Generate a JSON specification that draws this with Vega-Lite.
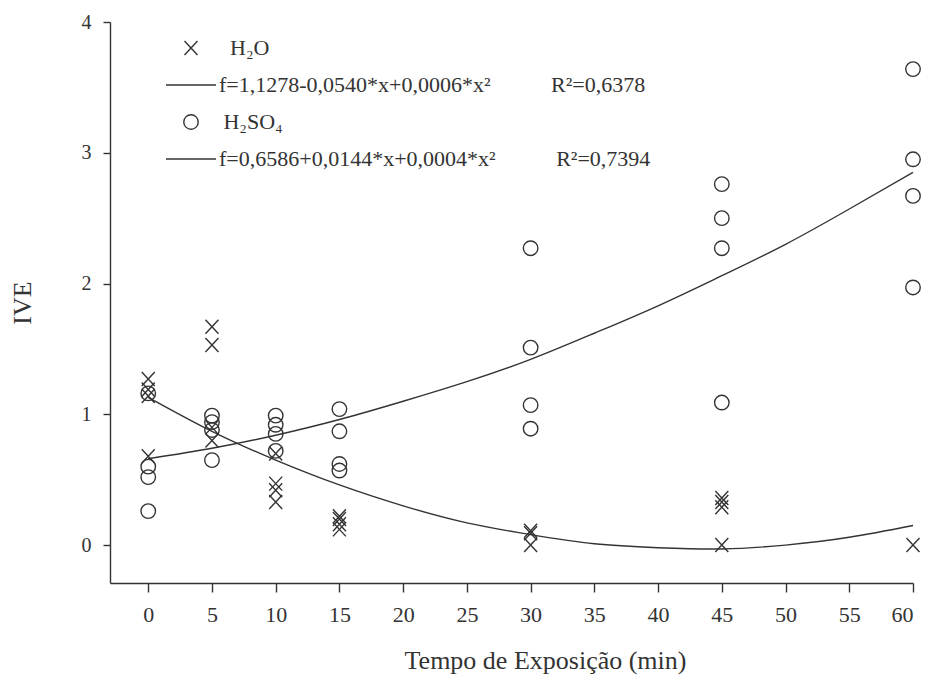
{
  "$schema": "https://vega.github.io/schema/vega-lite/v6.json",
  "width": 803,
  "height": 561,
  "autosize": {"type": "none"},
  "padding": {"left": 110, "top": 22, "right": 15, "bottom": 103},
  "background": "white",
  "config": {
    "view": {"stroke": null},
    "font": "Liberation Serif",
    "axis": {
      "grid": false,
      "domainColor": "#333",
      "tickColor": "#333",
      "labelColor": "#333",
      "titleColor": "#333",
      "domainWidth": 1.4,
      "tickWidth": 1.4,
      "labelFont": "Liberation Serif",
      "titleFont": "Liberation Serif",
      "titleFontWeight": "normal",
      "titleFontSize": 26
    }
  },
  "datasets": {
    "obs": [
      {"t": 0, "v": 1.27, "s": "H2O"}, {"t": 0, "v": 1.19, "s": "H2O"}, {"t": 0, "v": 1.14, "s": "H2O"}, {"t": 0, "v": 0.68, "s": "H2O"},
      {"t": 5, "v": 1.67, "s": "H2O"}, {"t": 5, "v": 1.53, "s": "H2O"}, {"t": 5, "v": 0.9, "s": "H2O"}, {"t": 5, "v": 0.8, "s": "H2O"},
      {"t": 10, "v": 0.7, "s": "H2O"}, {"t": 10, "v": 0.47, "s": "H2O"}, {"t": 10, "v": 0.42, "s": "H2O"}, {"t": 10, "v": 0.33, "s": "H2O"},
      {"t": 15, "v": 0.22, "s": "H2O"}, {"t": 15, "v": 0.2, "s": "H2O"}, {"t": 15, "v": 0.16, "s": "H2O"}, {"t": 15, "v": 0.12, "s": "H2O"},
      {"t": 30, "v": 0.11, "s": "H2O"}, {"t": 30, "v": 0.09, "s": "H2O"}, {"t": 30, "v": 0.0, "s": "H2O"},
      {"t": 45, "v": 0.36, "s": "H2O"}, {"t": 45, "v": 0.33, "s": "H2O"}, {"t": 45, "v": 0.29, "s": "H2O"}, {"t": 45, "v": 0.0, "s": "H2O"},
      {"t": 60, "v": 0.0, "s": "H2O"},
      {"t": 0, "v": 1.16, "s": "H2SO4"}, {"t": 0, "v": 0.6, "s": "H2SO4"}, {"t": 0, "v": 0.52, "s": "H2SO4"}, {"t": 0, "v": 0.26, "s": "H2SO4"},
      {"t": 5, "v": 0.99, "s": "H2SO4"}, {"t": 5, "v": 0.94, "s": "H2SO4"}, {"t": 5, "v": 0.88, "s": "H2SO4"}, {"t": 5, "v": 0.65, "s": "H2SO4"},
      {"t": 10, "v": 0.99, "s": "H2SO4"}, {"t": 10, "v": 0.92, "s": "H2SO4"}, {"t": 10, "v": 0.85, "s": "H2SO4"}, {"t": 10, "v": 0.72, "s": "H2SO4"},
      {"t": 15, "v": 1.04, "s": "H2SO4"}, {"t": 15, "v": 0.87, "s": "H2SO4"}, {"t": 15, "v": 0.62, "s": "H2SO4"}, {"t": 15, "v": 0.57, "s": "H2SO4"},
      {"t": 30, "v": 2.27, "s": "H2SO4"}, {"t": 30, "v": 1.51, "s": "H2SO4"}, {"t": 30, "v": 1.07, "s": "H2SO4"}, {"t": 30, "v": 0.89, "s": "H2SO4"},
      {"t": 45, "v": 2.76, "s": "H2SO4"}, {"t": 45, "v": 2.5, "s": "H2SO4"}, {"t": 45, "v": 2.27, "s": "H2SO4"}, {"t": 45, "v": 1.09, "s": "H2SO4"},
      {"t": 60, "v": 3.64, "s": "H2SO4"}, {"t": 60, "v": 2.95, "s": "H2SO4"}, {"t": 60, "v": 2.67, "s": "H2SO4"}, {"t": 60, "v": 1.97, "s": "H2SO4"}
    ],
    "fit": [
      {"t": 0, "v": 1.13, "s": "H2O"}, {"t": 5, "v": 0.87, "s": "H2O"}, {"t": 10, "v": 0.65, "s": "H2O"}, {"t": 15, "v": 0.46, "s": "H2O"},
      {"t": 20, "v": 0.3, "s": "H2O"}, {"t": 25, "v": 0.17, "s": "H2O"}, {"t": 30, "v": 0.08, "s": "H2O"}, {"t": 35, "v": 0.01, "s": "H2O"},
      {"t": 40, "v": -0.02, "s": "H2O"}, {"t": 45, "v": -0.03, "s": "H2O"}, {"t": 50, "v": 0.0, "s": "H2O"}, {"t": 55, "v": 0.06, "s": "H2O"},
      {"t": 60, "v": 0.15, "s": "H2O"},
      {"t": 0, "v": 0.66, "s": "H2SO4"}, {"t": 5, "v": 0.74, "s": "H2SO4"}, {"t": 10, "v": 0.84, "s": "H2SO4"}, {"t": 15, "v": 0.96, "s": "H2SO4"},
      {"t": 20, "v": 1.1, "s": "H2SO4"}, {"t": 25, "v": 1.25, "s": "H2SO4"}, {"t": 30, "v": 1.42, "s": "H2SO4"}, {"t": 35, "v": 1.62, "s": "H2SO4"},
      {"t": 40, "v": 1.83, "s": "H2SO4"}, {"t": 45, "v": 2.06, "s": "H2SO4"}, {"t": 50, "v": 2.3, "s": "H2SO4"}, {"t": 55, "v": 2.57, "s": "H2SO4"},
      {"t": 60, "v": 2.85, "s": "H2SO4"}
    ]
  },
  "encoding": {
    "x": {
      "field": "t",
      "type": "quantitative",
      "scale": {"domain": [-3, 60], "nice": false, "zero": false},
      "axis": {
        "title": "Tempo de Exposição (min)",
        "values": [0, 5, 10, 15, 20, 25, 30, 35, 40, 45, 50, 55, 60],
        "tickSize": 9,
        "labelFontSize": 22,
        "labelPadding": 12,
        "titlePadding": 22,
        "titleX": 435,
        "titleAlign": "center"
      }
    },
    "y": {
      "field": "v",
      "type": "quantitative",
      "scale": {"domain": [-0.29, 4], "nice": false, "zero": false},
      "axis": {
        "title": "IVE",
        "values": [0, 1, 2, 3, 4],
        "tickSize": 7,
        "labelFontSize": 20,
        "labelPadding": 12,
        "titlePadding": 46
      }
    }
  },
  "layer": [
    {
      "data": {"name": "fit"},
      "mark": {"type": "line", "interpolate": "natural", "color": "#333", "strokeWidth": 1.4},
      "encoding": {"detail": {"field": "s", "type": "nominal"}}
    },
    {
      "data": {"name": "obs"},
      "mark": {"type": "point", "filled": false, "color": "#333", "strokeWidth": 1.4, "size": 2500, "opacity": 1},
      "encoding": {
        "shape": {
          "field": "s",
          "type": "nominal",
          "scale": {
            "domain": ["H2O", "eq1", "H2SO4", "eq2"],
            "range": [
              "M-0.26,-0.28L0.26,0.28M-0.26,0.28L0.26,-0.28",
              "M-1,0L1,0",
              "M0.29,0A0.29,0.29,0,1,1,-0.29,0A0.29,0.29,0,1,1,0.29,0Z",
              "M-1,0L1,0"
            ]
          },
          "legend": {
            "orient": "none",
            "legendX": 55,
            "legendY": 0,
            "title": null,
            "padding": 0,
            "labelFont": "Liberation Serif",
            "labelFontSize": 22,
            "labelColor": "#333",
            "labelLimit": 0,
            "labelOffset": 2,
            "rowPadding": 0,
            "symbolSize": 2500,
            "symbolStrokeColor": "#333",
            "symbolFillColor": "transparent",
            "symbolStrokeWidth": 1.4,
            "labelExpr": "datum.value === 'H2O' ? '\u200b\u2002H₂O' : datum.value === 'eq1' ? 'f=1,1278-0,0540*x+0,0006*x²\u00a0\u00a0\u00a0\u00a0\u00a0\u00a0\u00a0\u00a0\u00a0\u00a0\u00a0R²=0,6378' : datum.value === 'H2SO4' ? '\u200b\u2009H₂SO₄' : 'f=0,6586+0,0144*x+0,0004*x²\u00a0\u00a0\u00a0\u00a0\u00a0\u00a0\u00a0\u00a0\u00a0\u00a0\u00a0R²=0,7394'"
          }
        }
      }
    }
  ]
}
